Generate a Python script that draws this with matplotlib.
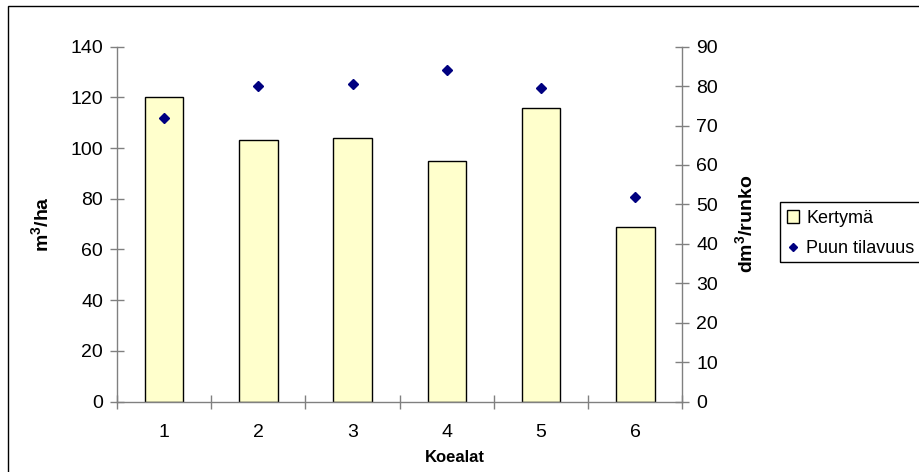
import matplotlib
matplotlib.use("Agg")
import matplotlib.pyplot as plt
from matplotlib.patches import Rectangle, Patch
from matplotlib.lines import Line2D
import numpy as np

plt.rcParams['font.family'] = ['Liberation Sans', 'DejaVu Sans']
plt.rcParams['mathtext.fontset'] = 'custom'
plt.rcParams['mathtext.rm'] = 'Liberation Sans'
plt.rcParams['mathtext.bf'] = 'Liberation Sans:bold'
plt.rcParams['mathtext.it'] = 'Liberation Sans:italic'

categories = ['1', '2', '3', '4', '5', '6']
kertyma = [120, 103, 104, 95, 116, 69]
puun_tilavuus = [72, 80, 80.5, 84, 79.5, 52]
left_ticks = [0, 20, 40, 60, 80, 100, 120, 140]
right_ticks = [0, 10, 20, 30, 40, 50, 60, 70, 80, 90]

W, H = 920, 472
fig = plt.figure(figsize=(W / 100, H / 100), dpi=100)
fig.patch.set_facecolor('white')

ax = fig.add_axes([117 / W, 1 - 401.5 / H, 565.5 / W, (401.5 - 46.7) / H])
ax2 = ax.twinx()

x = np.arange(1, len(categories) + 1)
axis_col = '#808080'

ax.bar(x, kertyma, width=0.41, color='#FFFFCC', edgecolor='black', linewidth=1.0, zorder=2)
ax2.plot(x, puun_tilavuus, linestyle='none', marker='D', markersize=5.5,
         color='#000080', markeredgecolor='#000080', zorder=3)

ax.set_xlim(0.5, len(categories) + 0.5)
ax.set_ylim(0, 140)
ax2.set_ylim(0, 90)
ax.set_yticks(left_ticks)
ax2.set_yticks(right_ticks)

# category boundaries as major ticks, labels on minor ticks at centres
ax.set_xticks(np.arange(0.5, len(categories) + 1, 1.0))
ax.set_xticklabels([])
ax.set_xticks(x, minor=True)
ax.set_xticklabels(categories, minor=True)

for a in (ax, ax2):
    a.spines['top'].set_visible(False)
    for s in a.spines.values():
        s.set_color(axis_col)
        s.set_linewidth(1.0)

ax.spines['right'].set_visible(False)
ax2.spines['left'].set_visible(False)
ax2.spines['bottom'].set_visible(False)

ax.tick_params(axis='y', direction='inout', length=10, width=1, color=axis_col,
               labelsize=14, pad=5)
ax2.tick_params(axis='y', direction='inout', length=10, width=1, color=axis_col,
                labelsize=14, pad=5)
ax.tick_params(axis='x', which='major', direction='inout', length=10, width=1, color=axis_col)
ax.tick_params(axis='x', which='minor', length=0, labelsize=14, pad=16)

fig.text(455 / W, 1 - 457 / H, 'Koealat', fontsize=12, fontweight='bold',
         ha='center', va='center')
fig.text(41 / W, 1 - 224 / H, r'$\mathbf{m^3/ha}$', fontsize=14,
         rotation=90, ha='center', va='center')
fig.text(745 / W, 1 - 224 / H, r'$\mathbf{dm^3/runko}$', fontsize=14,
         rotation=90, ha='center', va='center')

# outer chart border
fig.patches.append(Rectangle((8 / W, -0.2), 1.2, 1 - 6 / H + 0.2, transform=fig.transFigure,
                             fill=False, edgecolor='black', linewidth=1.0))
# legend frame
fig.patches.append(Rectangle((780 / W, 1 - 262 / H), 0.3, 60 / H, transform=fig.transFigure,
                             fill=False, edgecolor='black', linewidth=1.0))

handles = [Patch(facecolor='#FFFFCC', edgecolor='black', linewidth=1.0, label='Kertymä'),
           Line2D([], [], linestyle='none', marker='D', markersize=4.5, color='#000080',
                  label='Puun tilavuus')]
fig.legend(handles=handles, loc='upper left', bbox_to_anchor=(783 / W, 1 - 206 / H),
           frameon=False, fontsize=13, handlelength=0.7, handleheight=0.7,
           handletextpad=0.4, labelspacing=0.75, borderpad=0.2, borderaxespad=0)

fig.savefig('out.png', dpi=100, facecolor='white')
